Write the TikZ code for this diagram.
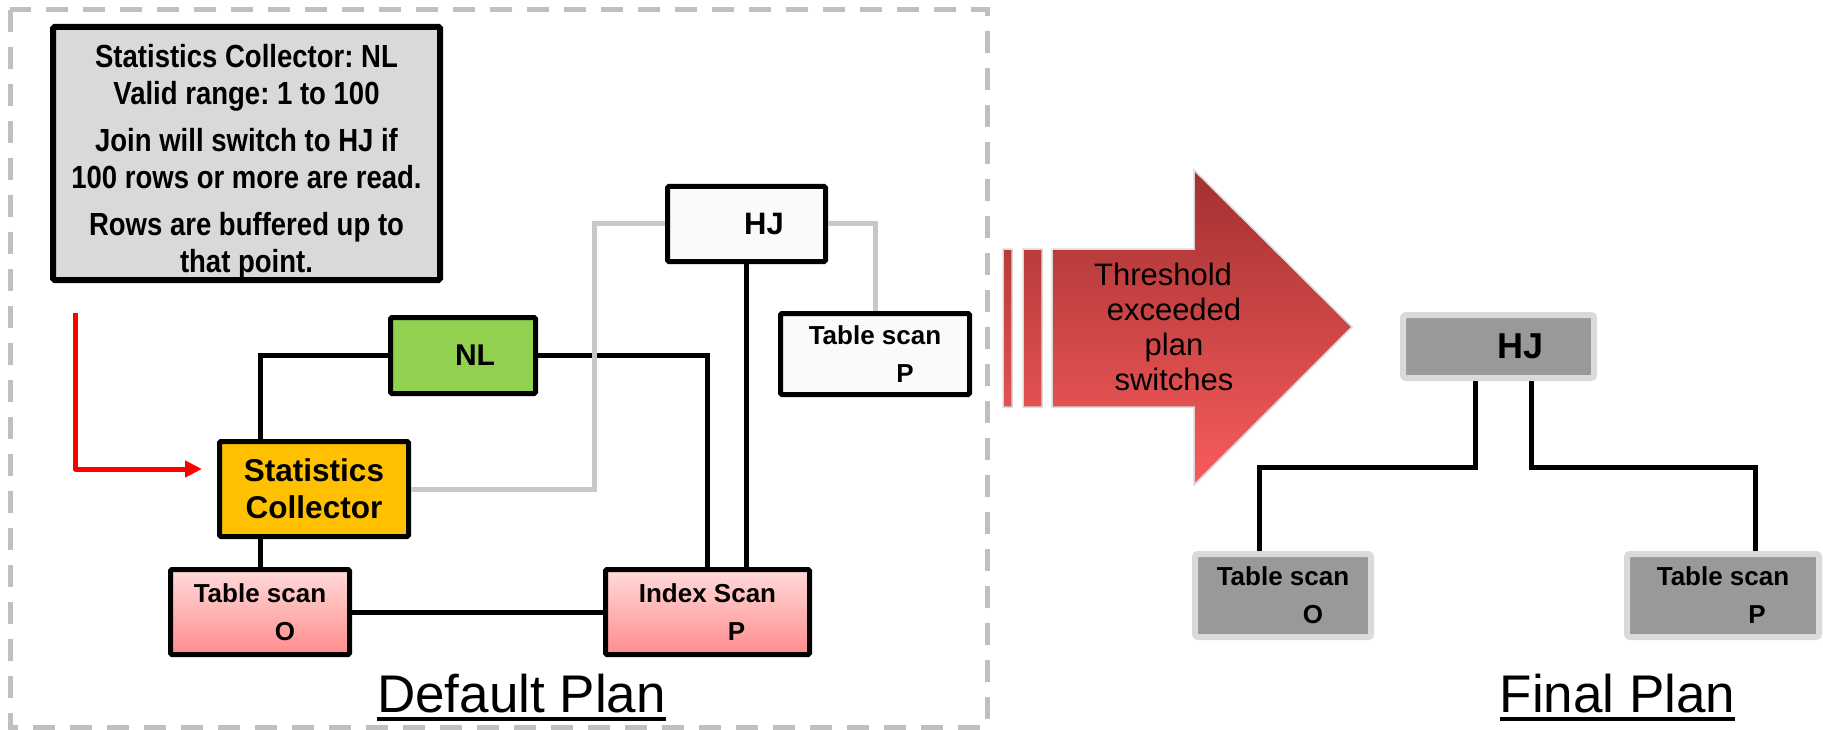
\documentclass[tikz,border=0pt]{standalone}
\usepackage{fontspec}
\setmainfont{Liberation Sans}
\newfontfamily\notefont[FakeStretch=0.86]{Liberation Sans}
\usetikzlibrary{positioning,arrows.meta}
\frenchspacing

\definecolor{notegray}{HTML}{D9D9D9}
\definecolor{nlgreen}{HTML}{92D050}
\definecolor{statsgold}{HTML}{FFC000}
\definecolor{scantop}{RGB}{255,218,218}
\definecolor{scanbottom}{RGB}{255,140,140}
\definecolor{altgray}{HTML}{C8C8C8}
\definecolor{framegray}{HTML}{BFBFBF}
\definecolor{finalgray}{HTML}{999999}
\definecolor{finalrim}{HTML}{DADADA}
\definecolor{arrowtop}{RGB}{163,48,48}
\definecolor{arrowbottom}{RGB}{248,92,92}

\begin{document}
\begin{tikzpicture}[x=1pt,y=-1pt,
    planbox/.style={draw=black, line width=5pt, rounded corners=1.5pt, inner sep=0pt,
      align=center, font=\bfseries\fontsize{26}{38}\selectfont},
    scanbox/.style={planbox, top color=scantop, bottom color=scanbottom, minimum height=85pt},
    finalbox/.style={planbox, draw=finalrim, line width=6pt, fill=finalgray, rounded corners=3pt},
    link/.style={draw=black, line width=5pt},
    altlink/.style={draw=altgray, line width=5pt},
    plantitle/.style={inner sep=0pt, outer sep=0pt, font=\fontsize{53}{60}\selectfont}]
  \useasboundingbox (0,0) rectangle (1823,730);

  % default plan
  \draw[framegray, line width=5pt, dash pattern=on 22pt off 15pt] (10,10) rectangle (987,727);
  \node[planbox, line width=6pt, fill=notegray, minimum width=387pt, minimum height=253pt,
        font=\notefont\bfseries\fontsize{32}{37}\selectfont] (note) at (246.5,153.5)
    {\rule{0pt}{39pt}Statistics Collector: NL\\Valid range: 1 to 100\\[10pt]
     Join will switch to HJ if\\100 rows or more are read.\\[10pt]
     Rows are buffered up to\\that point.};
  \node[planbox, fill=statsgold, minimum width=189pt, minimum height=95pt,
        font=\bfseries\fontsize{31.5}{37}\selectfont] (stats) at (314,489) {Statistics\\Collector};
  \node[scanbox, minimum width=179pt] (tso) at (260,612) {Table scan\\\hspace*{50pt}O};
  \node[scanbox, right=251pt of tso, minimum width=204pt] (idx) {Index Scan\\\hspace*{58pt}P};
  \node[planbox, fill=nlgreen, minimum width=145pt, minimum height=76pt,
        font=\bfseries\fontsize{30}{36}\selectfont] (nl) at (463,355.5) {\hspace*{24pt}NL};
  \node[planbox, fill=white!98!black, minimum width=158pt, minimum height=75pt,
        font=\bfseries\fontsize{31}{36}\selectfont] (hj) at (746.5,224) {\hspace*{35pt}HJ};
  \node[planbox, fill=white!98!black, minimum width=189pt, minimum height=81pt] (tsp)
    at (875,354) {Table scan\\\hspace*{60pt}P};

  \draw[link] (nl.west) -| (stats.north -| tso.north);
  \draw[link] (stats.south -| tso.north) -- (tso.north);
  \draw[link] (nl.east) -| (idx.north);
  \draw[link] (hj.south) -- (hj.south |- idx.north);
  \draw[link] (tso) -- (idx);
  \draw[altlink] (hj.west) -- ++(-71,0) |- (stats.east);
  \draw[altlink] (hj.east) -| (tsp.north);

  \coordinate (feed) at (75.5,313);
  \draw[red, line width=5pt, line join=round, -{Triangle[length=17pt,width=16pt]}]
    (feed) |- ([shift={(-15pt,20pt)}]stats.west);

  \node[plantitle, anchor=base] (dplan) at (521.5,712) {Default Plan};
  \draw[line width=4pt] ([yshift=-7pt]dplan.base west) -- ([yshift=-7pt]dplan.base east);

  % switch arrow
  \shadedraw[top color=arrowtop, bottom color=arrowbottom, draw=finalrim, line width=1.5pt]
    (1052,249) -- (1194,249) -- (1194,170) -- (1352,327) -- (1194,485) -- (1194,407)
    -- (1052,407) -- cycle
    (1003,249) rectangle (1012,407)
    (1023,249) rectangle (1042,407);
  \node[align=center, font=\fontsize{31}{35}\selectfont] (thr) at (1174,327)
    {Threshold\hspace*{22pt}\\exceeded\\plan\\switches};

  % final plan
  \node[finalbox, minimum width=191pt, minimum height=63pt,
        font=\bfseries\fontsize{36}{40}\selectfont] (hjf) at (1498.5,346.5) {\hspace*{43pt}HJ};
  \node[finalbox, below left=170pt and 26pt of hjf, minimum width=176pt, minimum height=83pt]
    (tsof) {Table scan\\\hspace*{60pt}O};
  \node[finalbox, below right=170pt and 27pt of hjf, minimum width=192pt, minimum height=83pt]
    (tspf) {Table scan\\\hspace*{68pt}P};

  \draw[link] ([xshift=-23.5pt]hjf.south) -- ++(0,86) -| ([xshift=-24pt]tsof.north);
  \draw[link] ([xshift=32.5pt]hjf.south) -- ++(0,86) -| ([xshift=32pt]tspf.north);

  \node[plantitle, anchor=base] (fplan) at (1617.5,712) {Final Plan};
  \draw[line width=4pt] ([yshift=-7pt]fplan.base west) -- ([yshift=-7pt]fplan.base east);
\end{tikzpicture}
\end{document}
